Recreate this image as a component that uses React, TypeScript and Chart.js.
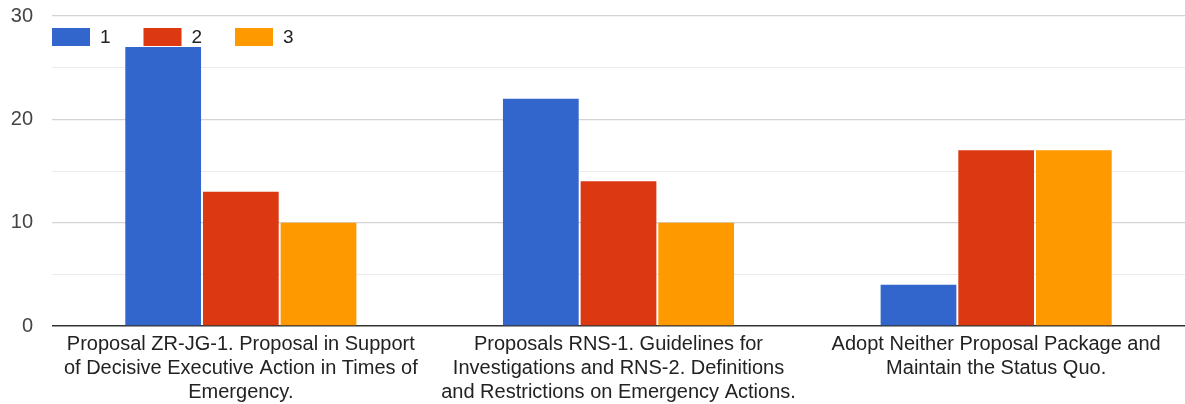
import React, { useEffect, useRef } from "react";
import { Chart, registerables } from "chart.js";

Chart.register(...registerables);

const categories: string[][] = [
  ["Proposal ZR-JG-1. Proposal in Support", "of Decisive Executive Action in Times of", "Emergency."],
  ["Proposals RNS-1. Guidelines for", "Investigations and RNS-2. Definitions", "and Restrictions on Emergency Actions."],
  ["Adopt Neither Proposal Package and", "Maintain the Status Quo."],
];
const seriesNames = ["1", "2", "3"];
const series1 = [27, 22, 4];
const series2 = [13, 14, 17];
const series3 = [10, 10, 17];
const colors = ["#3366cc", "#dc3912", "#ff9900"];
const yMin = 0;
const yMax = 30;
const yStep = 5;

const FONT = "'Liberation Sans', Arial, sans-serif";

const legendPlugin = {
  id: "topLegend",
  afterDraw(chart: any) {
    const ctx = chart.ctx as CanvasRenderingContext2D;
    ctx.save();
    ctx.font = `19px ${FONT}`;
    ctx.textBaseline = "middle";
    let x = 52;
    const y = 37;
    chart.data.datasets.forEach((ds: any) => {
      ctx.fillStyle = ds.backgroundColor;
      ctx.fillRect(x, y - 9, 38, 18);
      ctx.fillStyle = "#222";
      ctx.textAlign = "left";
      ctx.fillText(ds.label, x + 48, y + 1);
      x += 91.5;
    });
    ctx.restore();
  },
};

export default function App() {
  const ref = useRef<HTMLCanvasElement>(null);
  useEffect(() => {
    document.body.style.margin = "0";
    const data = [series1, series2, series3];
    const chart = new Chart(ref.current!, {
      type: "bar",
      data: {
        labels: categories,
        datasets: data.map((d, i) => ({
          label: seriesNames[i],
          data: d,
          backgroundColor: colors[i],
          categoryPercentage: 0.617,
          barPercentage: 0.975,
        })),
      },
      options: {
        animation: false,
        responsive: true,
        maintainAspectRatio: false,
        layout: { autoPadding: false, padding: { top: 16, right: 0, left: 0, bottom: 0 } },
        plugins: { legend: { display: false }, tooltip: { enabled: false } },
        scales: {
          x: {
            grid: { display: false, drawTicks: false },
            border: { display: false },
            ticks: {
              maxRotation: 0,
              autoSkip: false,
              padding: 6,
              color: "#222",
              font: { family: FONT, size: 20, lineHeight: 1.2 },
            },
            afterFit: (scale: any) => {
              scale.height = 78;
            },
          },
          y: {
            min: yMin,
            max: yMax,
            border: { display: false },
            grid: {
              drawTicks: false,
              color: (c: any) =>
                c.tick && c.tick.value === 0 ? "#333" : c.tick && c.tick.value % 10 === 0 ? "#d4d4d4" : "#ebebeb",
              lineWidth: (c: any) => (c.tick && c.tick.value === 0 ? 1.5 : c.tick && c.tick.value % 10 === 0 ? 1.3 : 1),
            },
            ticks: {
              stepSize: yStep,
              padding: 19,
              color: "#444",
              font: { family: FONT, size: 20 },
              callback: (v: any) => (Number(v) % 10 === 0 ? String(v) : ""),
            },
            afterFit: (scale: any) => {
              scale.width = 52;
              scale.paddingTop = 0;
              scale.paddingBottom = 0;
            },
          },
        },
      },
      plugins: [legendPlugin],
    });
    return () => chart.destroy();
  }, []);
  return (
    <div style={{ position: "absolute", left: 0, top: 0, width: 1185, height: 404, background: "#fff" }}>
      <canvas ref={ref} />
    </div>
  );
}
